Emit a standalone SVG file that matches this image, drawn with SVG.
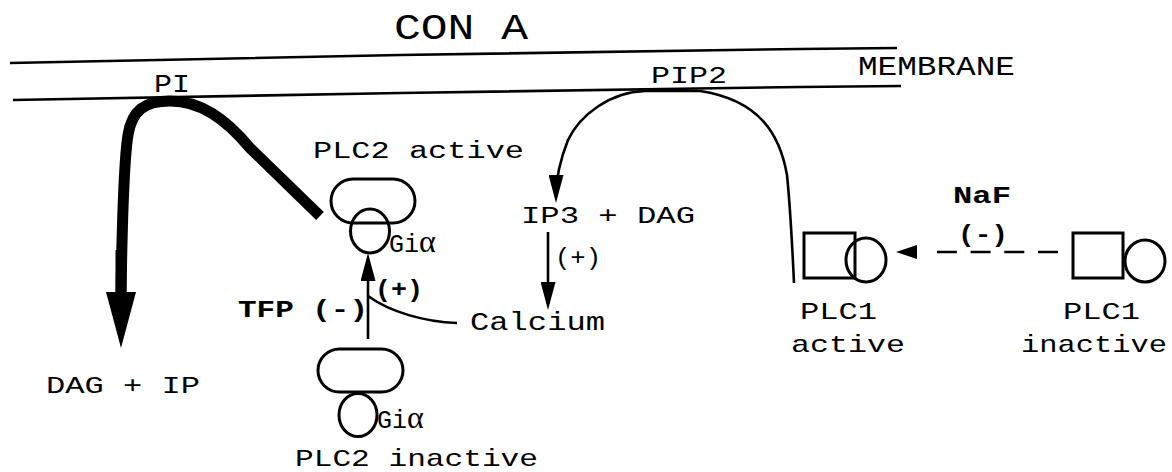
<svg xmlns="http://www.w3.org/2000/svg" width="1172" height="472" viewBox="0 0 1172 472">
<style>
.t{font-family:"Liberation Mono","Courier New",monospace;fill:#000;}
.b{font-weight:bold;}
.g{font-family:"Liberation Serif","Times New Roman",serif;}
.ln{fill:none;stroke:#000;stroke-width:2.6;}
.sh{fill:none;stroke:#000;stroke-width:3;}
.thick{fill:none;stroke:#000;stroke-width:11;stroke-linecap:butt;}
.dash{fill:none;stroke:#000;stroke-width:2.6;stroke-dasharray:20 13.7;}
</style>
<defs>
<marker id="arr" markerUnits="userSpaceOnUse" viewBox="0 0 28 15" markerWidth="28" markerHeight="15" refX="22" refY="7.5" orient="auto"><path d="M0,0 L28,7.5 L0,15 Z" fill="#000"/></marker>
<marker id="arrS" markerUnits="userSpaceOnUse" viewBox="0 0 21 14" markerWidth="21" markerHeight="14" refX="15" refY="7" orient="auto"><path d="M0,0 L21,7 L0,14 Z" fill="#000"/></marker>
<marker id="arrBig" markerUnits="userSpaceOnUse" viewBox="0 0 56 30" markerWidth="56" markerHeight="30" refX="1" refY="15" orient="auto"><path d="M0,0 L56,15 L0,30 Z" fill="#000"/></marker>
</defs>
<rect width="1172" height="472" fill="#fff"/>

<g id="con-a"><text class="t" x="394" y="39" font-size="36" textLength="134" lengthAdjust="spacingAndGlyphs">CON A</text></g>

<g id="membrane">
<polyline class="ln" points="10,63 400,55 800,49 897,48"/>
<polyline class="ln" points="13,100 400,93 800,87 901,86"/>
<text class="t" x="858" y="75" font-size="27" textLength="157" lengthAdjust="spacingAndGlyphs">MEMBRANE</text>
</g>

<g id="pi"><text class="t" x="154" y="92" font-size="25" textLength="36" lengthAdjust="spacingAndGlyphs">PI</text></g>
<g id="pip2"><text class="t" x="651" y="83" font-size="24" textLength="76" lengthAdjust="spacingAndGlyphs">PIP2</text></g>

<g id="plc2-active">
<text class="t" x="313" y="158" font-size="23" textLength="211" lengthAdjust="spacingAndGlyphs">PLC2 active</text>
<rect class="sh" x="331" y="179" width="84" height="44" rx="22"/>
<ellipse class="sh" cx="370" cy="231" rx="19.5" ry="22"/>
<text class="t" x="389" y="252" font-size="25">Gi<tspan class="g" font-size="32">α</tspan></text>
</g>

<g id="plc2-inactive">
<rect class="sh" x="318" y="349" width="85" height="43" rx="21.5"/>
<ellipse class="sh" cx="358" cy="415" rx="19" ry="21.5"/>
<text class="t" x="377" y="428" font-size="25">Gi<tspan class="g" font-size="32">α</tspan></text>
<text class="t" x="295" y="466" font-size="24" textLength="243" lengthAdjust="spacingAndGlyphs">PLC2 inactive</text>
</g>

<g id="ip3-dag"><text class="t" x="521" y="223" font-size="24" textLength="174" lengthAdjust="spacingAndGlyphs">IP3 + DAG</text></g>
<g id="calcium"><text class="t" x="470" y="330" font-size="25" textLength="135" lengthAdjust="spacingAndGlyphs">Calcium</text></g>
<g id="tfp"><text class="t b" x="238" y="317" font-size="24" textLength="130" lengthAdjust="spacingAndGlyphs">TFP (-)</text></g>
<g id="dag-ip"><text class="t" x="46" y="393" font-size="24" textLength="154" lengthAdjust="spacingAndGlyphs">DAG + IP</text></g>

<g id="naf">
<text class="t b" x="953" y="203" font-size="23" textLength="58" lengthAdjust="spacingAndGlyphs">NaF</text>
<text class="t b" x="958" y="242" font-size="23" textLength="50" lengthAdjust="spacingAndGlyphs">(-)</text>
</g>

<g id="plc1-active">
<rect class="sh" x="804" y="233" width="51" height="45"/>
<ellipse class="sh" cx="866" cy="260" rx="20" ry="22"/>
<text class="t" x="800" y="319" font-size="24" textLength="77" lengthAdjust="spacingAndGlyphs">PLC1</text>
<text class="t" x="791" y="352" font-size="24" textLength="114" lengthAdjust="spacingAndGlyphs">active</text>
</g>

<g id="plc1-inactive">
<rect class="sh" x="1073" y="233" width="50" height="45"/>
<ellipse class="sh" cx="1145" cy="261" rx="20" ry="21"/>
<text class="t" x="1063" y="319" font-size="24" textLength="77" lengthAdjust="spacingAndGlyphs">PLC1</text>
<text class="t" x="1021" y="352" font-size="24" textLength="146" lengthAdjust="spacingAndGlyphs">inactive</text>
</g>

<g id="connectors">
<path class="thick" d="M121,293 C122,230 124,160 128,135 C132,110 145,101 170,101 C200,101 225,118 250,148 L320,216"/>
<path d="M121,250 L121,293" class="thick" marker-end="url(#arrBig)"/>
<path class="ln" d="M794,283 C792,240 790,205 787,175 C780,135 760,100 700,91 L645,91 C610,92 580,115 568,140 C562,155 556,175 556,197" marker-end="url(#arr)"/>
<path class="ln" d="M548,232 V304" marker-end="url(#arr)"/>
<path class="ln" d="M368,339 V259" marker-end="url(#arr)"/>
<text class="t" x="555" y="265" font-size="24" textLength="46" lengthAdjust="spacingAndGlyphs">(+)</text>
<path class="ln" d="M457,323 C425,322 390,312 368,296"/>
<text class="t b" x="375" y="297" font-size="24" textLength="48" lengthAdjust="spacingAndGlyphs">(+)</text>
<path class="dash" d="M1058,252 H937"/>
<path d="M917,252 H902" stroke="none" fill="none" marker-end="url(#arrS)"/>
</g>
</svg>
